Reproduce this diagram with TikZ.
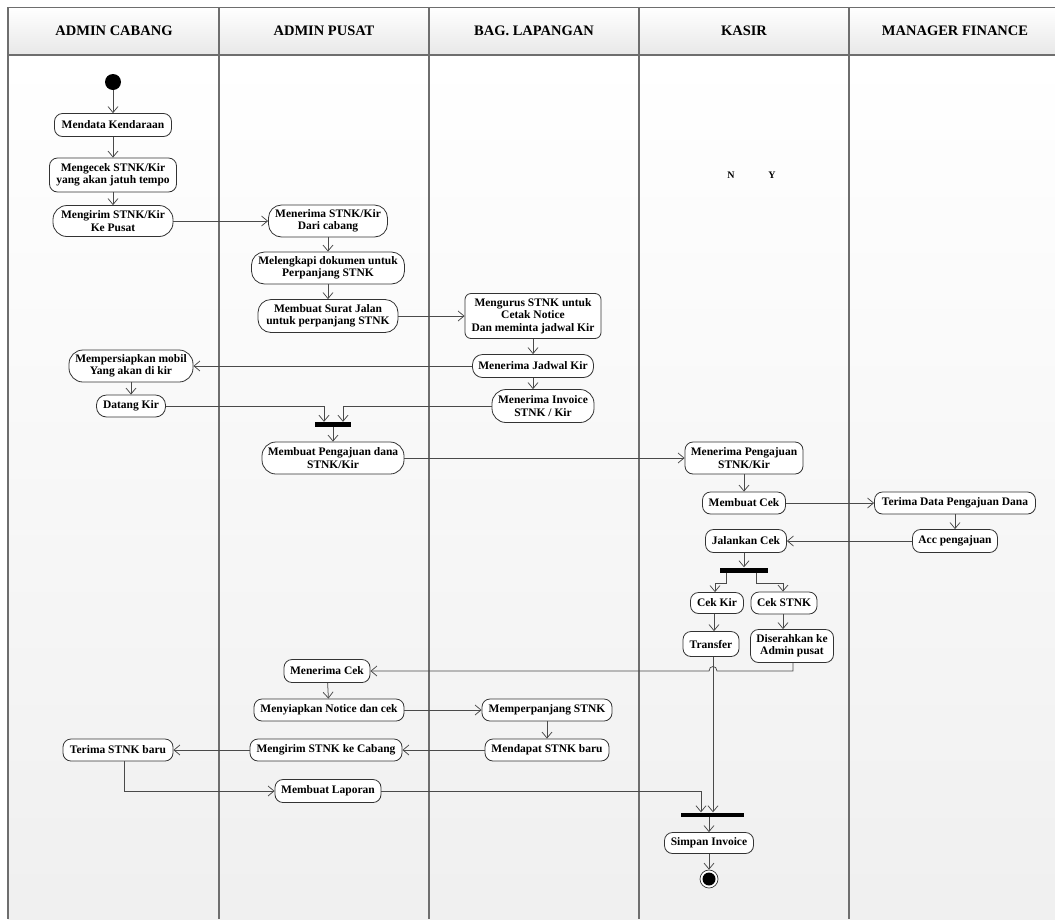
\documentclass[tikz,border=0pt]{standalone}
\usepackage{fontspec}
\setmainfont{Liberation Serif}
\usetikzlibrary{arrows.meta}
\definecolor{laneline}{HTML}{6E6E6E}
\definecolor{edgecol}{HTML}{4A4A4A}
\definecolor{boxcol}{HTML}{333333}
\begin{document}
\begin{tikzpicture}[x=1pt,y=-1pt,
  act/.style={rectangle, draw=boxcol, fill=white, line width=0.8pt, align=center,
    inner sep=2pt, rounded corners=8pt,
    font=\bfseries\fontsize{11.5}{12.4}\selectfont},
  bar/.style={rectangle, fill=black, inner sep=0pt},
  flow/.style={draw=edgecol, line width=0.75pt, -{Straight Barb[length=6pt,width=10pt]}},
  plain/.style={draw=edgecol, line width=0.75pt},
  lanehead/.style={font=\bfseries\fontsize{14.5}{16}\selectfont},
  lbl/.style={font=\bfseries\fontsize{10}{12}\selectfont}]
\useasboundingbox (0,0) rectangle (1055,919);
\fill[white] (0,0) rectangle (1055,919);
% backgrounds
\shade[top color=white, bottom color=black!6] (8,55) rectangle (1055,919);
\shade[top color=white, bottom color=black!9] (8,7) rectangle (1055,55);
\draw[laneline, line width=1pt] (8,7) -- (1055,7);
\draw[laneline, line width=1.2pt] (8,55) -- (1055,55);
\foreach \xx in {8,219,429,639,849}
  \draw[laneline, line width=1.2pt] (\xx,7) -- (\xx,919);
% headers
\node[lanehead] (h1) at (114,31) {ADMIN CABANG};
\node[lanehead] (h2) at (324,31) {ADMIN PUSAT};
\node[lanehead] (h3) at (534,31) {BAG. LAPANGAN};
\node[lanehead] (h4) at (744,31) {KASIR};
\node[lanehead] (h5) at (955,31) {MANAGER FINANCE};
% labels
\node[lbl] (tN) at (731,175) {N};
\node[lbl] (tY) at (772,175) {Y};
% start
\node[circle, fill=black, minimum size=16pt, inner sep=0pt] (start) at (113,82) {};
% ADMIN CABANG
\node[act, minimum width=117pt, minimum height=23pt] (a1) at (113,125) {Mendata Kendaraan};
\node[act, minimum width=127pt, minimum height=34pt] (a2) at (113,175) {Mengecek STNK/Kir\\yang akan jatuh tempo};
\node[act, minimum width=120pt, minimum height=31pt, rounded corners=14pt] (a3) at (113,221) {Mengirim STNK/Kir\\Ke Pusat};
% ADMIN PUSAT
\node[act, minimum width=119pt, minimum height=32pt, rounded corners=13pt] (p1) at (328,221) {Menerima STNK/Kir\\Dari cabang};
\node[act, minimum width=153pt, minimum height=32pt, rounded corners=13pt] (p2) at (328,268) {Melengkapi dokumen untuk\\Perpanjang STNK};
\node[act, minimum width=140pt, minimum height=33pt, rounded corners=13pt] (p3) at (328,316) {Membuat Surat Jalan\\untuk perpanjang STNK};
% BAG LAPANGAN
\node[act, minimum width=136pt, minimum height=45pt, rounded corners=6pt] (l1) at (533,316) {Mengurus STNK untuk\\Cetak Notice\\Dan meminta jadwal Kir};
\node[act, minimum width=121pt, minimum height=23pt, rounded corners=10pt] (l2) at (533,366) {Menerima Jadwal Kir};
\node[act, minimum width=102pt, minimum height=33pt, rounded corners=14pt] (l3) at (543,406) {Menerima Invoice\\STNK / Kir};
\node[act, minimum width=124pt, minimum height=32pt, rounded corners=14pt] (c4) at (131,366) {Mempersiapkan mobil\\Yang akan di kir};
\node[act, minimum width=69pt, minimum height=22pt, rounded corners=10pt] (c5) at (131,406) {Datang Kir};
\node[bar, minimum width=36pt, minimum height=5pt] (bar1) at (333,424.5) {};
\node[act, minimum width=142pt, minimum height=32pt, rounded corners=14pt] (p4) at (333,458) {Membuat Pengajuan dana\\STNK/Kir};
% KASIR / MANAGER
\node[act, minimum width=118pt, minimum height=32pt] (k1) at (744,458) {Menerima Pengajuan\\STNK/Kir};
\node[act, minimum width=83pt, minimum height=22pt] (k2) at (744,503) {Membuat Cek};
\node[act, minimum width=161pt, minimum height=22pt] (m1) at (955,503) {Terima Data Pengajuan Dana};
\node[act, minimum width=85pt, minimum height=23pt] (m2) at (955,541) {Acc pengajuan};
\node[act, minimum width=81pt, minimum height=23pt] (k3) at (746,541) {Jalankan Cek};
\node[bar, minimum width=48pt, minimum height=5pt] (bar2) at (744,570) {};
\node[act, minimum width=53pt, minimum height=21pt] (k4) at (717,603) {Cek Kir};
\node[act, minimum width=66pt, minimum height=22pt] (k5) at (784,603) {Cek STNK};
\node[act, minimum width=56pt, minimum height=25pt] (k6) at (711,644) {Transfer};
\node[act, minimum width=83pt, minimum height=33pt] (k7) at (792,646) {Diserahkan ke\\Admin pusat};
% lower part
\node[act, minimum width=86pt, minimum height=23pt] (p5) at (327,671) {Menerima Cek};
\node[act, minimum width=150pt, minimum height=22pt] (p6) at (329,710) {Menyiapkan Notice dan cek};
\node[act, minimum width=130pt, minimum height=22pt] (l4) at (547,710) {Memperpanjang STNK};
\node[act, minimum width=124pt, minimum height=22pt] (l5) at (547,750) {Mendapat STNK baru};
\node[act, minimum width=152pt, minimum height=22pt] (p7) at (326,750) {Mengirim STNK ke Cabang};
\node[act, minimum width=110pt, minimum height=22pt] (c6) at (118,750) {Terima STNK baru};
\node[act, minimum width=106pt, minimum height=23pt] (p8) at (328,791) {Membuat Laporan};
\node[bar, minimum width=63pt, minimum height=4pt] (bar3) at (712,814.5) {};
\node[act, minimum width=89pt, minimum height=21pt] (k8) at (709,843) {Simpan Invoice};
\node[circle, draw=boxcol, line width=0.7pt, fill=white, minimum size=18pt, inner sep=0pt] (end) at (709,879) {};
\node[circle, fill=black, minimum size=13pt, inner sep=0pt] (endin) at (end) {};
% connectors
\draw[flow] (start) -- (a1);
\draw[flow] (a1) -- (a2);
\draw[flow] (a2) -- (a3);
\draw[flow] (a3) -- (p1);
\draw[flow] (p1) -- (p2);
\draw[flow] (p2) -- (p3);
\draw[flow] (p3) -- (l1);
\draw[flow] (l1) -- (l2);
\draw[flow] (l2.south) -- (l2.south |- l3.north);
\draw[flow] (l2) -- (c4);
\draw[flow] (c4) -- (c5);
\draw[flow] (c5.east) -| ([xshift=-9pt]bar1.north);
\draw[flow] (l3.west) -| ([xshift=10pt]bar1.north);
\draw[flow] (bar1) -- (p4);
\draw[flow] (p4) -- (k1);
\draw[flow] (k1) -- (k2);
\draw[flow] (k2) -- (m1);
\draw[flow] (m1) -- (m2);
\draw[flow] (m2) -- (k3);
\draw[flow] ([xshift=-2pt]k3.south) -- ([xshift=-2pt]k3.south |- bar2.north);
\draw[flow] ([xshift=-18pt]bar2.south) -- ++(0,11) -| ([xshift=-2pt]k4.north);
\draw[flow] ([xshift=12pt]bar2.south) -- ++(0,11) -| ([xshift=-1pt]k5.north);
\draw[flow] ([xshift=-3pt]k4.south) -- ([xshift=-3pt]k4.south |- k6.north);
\draw[flow] ([xshift=-1pt]k5.south) -- ([xshift=-1pt]k5.south |- k7.north);
\draw[flow] ([xshift=2pt]k6.south) -- ([xshift=2pt]k6.south |- bar3.north);
\draw[flow] ([xshift=1pt]k7.south) |- (717,671) .. controls (717,665) and (709,665) .. (709,671) -- (p5.east);
\draw[flow] (p5) -- (p6);
\draw[flow] (p6) -- (l4);
\draw[flow] (l4) -- (l5);
\draw[flow] (l5) -- (p7);
\draw[flow] (p7) -- (c6);
\draw[flow] ([xshift=6pt]c6.south) |- (p8.west);
\draw[flow] (p8.east) -| ([xshift=-11pt]bar3.north);
\draw[flow] (bar3.south -| k8.north) -- (k8.north);
\draw[flow] (k8) -- (end);
\end{tikzpicture}
\end{document}
